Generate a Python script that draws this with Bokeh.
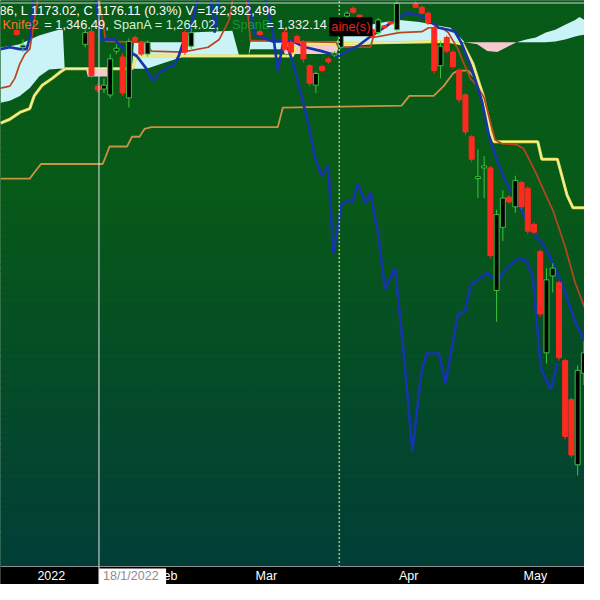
import numpy as np
from bokeh.plotting import figure
from bokeh.models import FixedTicker, Span, Label, Range1d
from bokeh.embed import file_html
from bokeh.resources import INLINE

# ---------------- data (bar index: 0 = first trading day of 2022) ----------------
cd_idx = [-3, -2, 8, 9, 10, 11, 12, 13, 14, 15, 16, 17, 18, 24, 25, 36,
          40, 41, 42, 43, 44, 45, 46, 47, 48, 49, 50, 51, 52, 53, 54, 55, 56, 57, 58,
          61, 62, 63, 64, 65, 66, 67, 68, 69, 70, 71, 72, 73, 74, 75, 76, 77, 78, 79, 80,
          81, 82, 83, 84, 85, 86, 87, 88]
cd_open = [1338, 1304, 1310, 1336, 1224, 1218, 1206, 1296, 1284, 1200, 1324, 1314, 1290, 1334, 1306, 1336,
           1334, 1314, 1326, 1314, 1266, 1226, 1264, 1280, 1288, 1304, 1368, 1384, 1370, 1364, 1340, 1334, 1348, 1356, 1340,
           1394, 1386, 1374, 1344, 1266, 1324, 1294, 1256, 1206, 1120, 1034, 1056, 1056, 804, 934, 996, 976, 1026, 1014, 940,
           884, 676, 834, 820, 660, 580, 446, 634]
cd_close = [1330, 1308, 1334, 1246, 1216, 1226, 1280, 1302, 1210, 1316, 1318, 1290, 1314, 1294, 1334, 1330,
            1300, 1294, 1314, 1280, 1230, 1250, 1256, 1274, 1292, 1346, 1374, 1376, 1364, 1360, 1326, 1360, 1344, 1352, 1394,
            1386, 1374, 1354, 1256, 1306, 1296, 1264, 1196, 1130, 1074, 1038, 1060, 876, 960, 994, 986, 1030, 976, 926, 924,
            756, 826, 850, 666, 504, 466, 640, 676]
cd_high = [1340, 1320, 1340, 1350, 1230, 1240, 1290, 1310, 1292, 1322, 1328, 1318, 1318, 1340, 1344, 1340,
           1340, 1318, 1330, 1318, 1270, 1254, 1268, 1284, 1296, 1352, 1378, 1388, 1372, 1366, 1344, 1364, 1350, 1358, 1410,
           1400, 1390, 1378, 1350, 1316, 1328, 1298, 1260, 1210, 1124, 1094, 1080, 1060, 970, 1010, 1000, 1040, 1030, 1018, 944,
           888, 850, 860, 824, 664, 584, 650, 700]
cd_low = [1328, 1294, 1304, 1240, 1210, 1210, 1200, 1290, 1204, 1180, 1314, 1286, 1284, 1288, 1300, 1328,
          1296, 1290, 1312, 1272, 1224, 1210, 1252, 1270, 1284, 1300, 1364, 1372, 1362, 1358, 1322, 1330, 1342, 1350, 1336,
          1384, 1372, 1350, 1250, 1240, 1292, 1260, 1190, 1124, 1068, 994, 994, 870, 740, 906, 982, 964, 970, 920, 920,
          750, 654, 800, 660, 498, 460, 424, 610]

tenkan_x = [-5.6, -4.1, -2.5, -1.4, -0.8, -0.2, 10.0, 25.6, 33.4, 35.3, 38.1, 41.25, 43.3, 45.9, 48.6, 50.6, 51.7,
            53.75, 56.1, 58.4, 59.5, 61.6, 63.1, 64.7, 66.25, 67.3, 68.3, 69.4, 70.5, 71.7, 72.8, 74.1, 75.6, 77.2,
            78.75, 80.3, 81.9, 83.4, 85.0, 86.6, 88.1]
tenkan_y = [1300, 1304, 1300, 1300, 1328, 1440, 1460, 1460, 1440, 1330, 1316, 1316, 1304, 1296, 1286, 1300, 1306,
            1326, 1346, 1366, 1374, 1370, 1360, 1344, 1340, 1336, 1314, 1280, 1240, 1190, 1120, 1070, 1024, 990,
            950, 916, 890, 850, 800, 740, 700]

kijun_x = [-5.6, -4.1, -3.3, -2.5, -1.7, -0.9, 0.6, 10.0, 11.3, 17.8, 18.6, 23.6, 27.7, 29.5, 31.1, 31.9, 33.75,
           34.5, 41.25, 48.3, 48.6, 53.75, 54.2, 58.4, 62.0, 63.1, 65.2, 66.25, 67.8, 68.9, 69.8, 70.9, 72.0, 73.0,
           73.75, 74.8, 77.2, 78.3, 79.2, 80.3, 81.9, 83.0, 83.9, 85.0, 86.6, 88.1]
kijun_y = [1220, 1224, 1240, 1270, 1290, 1300, 1420, 1420, 1316, 1314, 1296, 1294, 1304, 1320, 1360, 1420, 1420,
           1318, 1316, 1314, 1304, 1304, 1324, 1334, 1336, 1344, 1344, 1334, 1300, 1266, 1240, 1224, 1200, 1150,
           1114, 1106, 1104, 1096, 1074, 1046, 1000, 970, 936, 894, 820, 770]

chikou_x = [9.5, 10.5, 12.7, 13.9, 16.25, 17.8, 18.9, 19.8, 21.4, 22.2, 23.0, 23.6, 24.8, 26.4, 28.0, 28.75, 29.5,
            36.6, 38.1, 38.9, 39.7, 40.6, 41.25, 42.8, 43.9, 44.8, 45.9, 47.0, 47.8, 49.1, 50.2, 50.9, 51.7, 53.0,
            53.75, 55.0, 56.1, 57.7, 58.9, 60.5, 61.9, 62.8, 64.7, 65.8, 67.8, 68.9, 69.8, 71.25, 72.5, 74.1, 75.6,
            77.5, 78.75, 79.8, 81.1, 82.7, 83.75]
chikou_y = [1420, 1320, 1320, 1304, 1286, 1260, 1234, 1250, 1264, 1266, 1286, 1310, 1340, 1420, 1420, 1334, 1420,
            1420, 1334, 1256, 1310, 1300, 1274, 1200, 1140, 1080, 1040, 1060, 880, 980, 990, 986, 1024, 984,
            1006, 920, 806, 850, 700, 474, 634, 676, 676, 614, 756, 760, 814, 830, 840, 820, 850,
            870, 866, 834, 644, 600, 656]

knife_x = [-5.6, -0.9, -0.2, 0.9, 10.8, 11.3, 11.9, 14.7, 15.5, 16.7, 17.5, 18.6, 38.9, 39.7, 58.75, 60.0, 63.9,
           65.5, 67.0, 67.8, 69.4, 70.9, 72.0, 73.0, 73.75]
knife_y = [1034, 1034, 1046, 1064, 1064, 1080, 1100, 1100, 1120, 1120, 1136, 1140, 1140, 1180, 1184, 1204, 1204,
           1224, 1250, 1256, 1256, 1236, 1204, 1144, 1110]

ma_x = [-5.6, -4.1, -2.5, -0.9, -0.2, 1.1, 2.7, 4.1, 4.8, 15.5, 16.25, 41.25, 42.0, 66.25, 68.6, 70.2, 71.7, 73.0,
        73.6, 80.6, 81.25, 83.75, 85.3, 86.25, 88.1]
ma_y = [1148, 1156, 1170, 1178, 1204, 1226, 1240, 1254, 1260, 1260, 1286, 1286, 1310, 1316, 1310, 1270, 1210, 1130,
        1110, 1110, 1074, 1074, 1000, 974, 974]

span_x = [-5.6, -4.1, -2.5, -0.9, 0.6, 2.2, 3.75, 4.4, 4.7, 8.1, 8.4, 11.6, 11.9, 15.5, 15.8, 17.8, 21.7, 24.1, 24.8,
          31.6, 32.7, 34.2, 34.5, 39.4, 40.0, 48.3, 49.1, 50.6, 53.75, 56.1, 58.4, 61.6, 64.7, 66.6, 67.8, 68.9,
          70.9, 72.5, 74.1, 75.6, 77.2, 78.75, 80.3, 81.9, 83.4, 85.0, 86.6, 87.3, 88.1]
span_a = [1304, 1306, 1310, 1320, 1328, 1334, 1340, 1340, 1260, 1260, 1244, 1244, 1260, 1260, 1314, 1314, 1314, 1314,
          1334, 1338, 1286, 1286, 1316, 1316, 1290, 1290, 1324, 1340, 1350, 1356, 1360, 1356, 1348, 1344, 1328, 1314,
          1310, 1296, 1294, 1304, 1314, 1320, 1324, 1334, 1340, 1350, 1360, 1366, 1360]
span_b = [1190, 1194, 1204, 1220, 1244, 1258, 1260, 1260, 1260, 1260, 1260, 1260, 1260, 1260, 1260, 1260, 1276, 1286,
          1286, 1286, 1286, 1286, 1300, 1300, 1316, 1316, 1304, 1306, 1310, 1312, 1314, 1314, 1314, 1314, 1314, 1314,
          1314, 1314, 1314, 1314, 1314, 1314, 1314, 1314, 1316, 1320, 1326, 1328, 1330]

month_idx = [0, 19, 35, 58, 78]
month_labels = ["2022", "Feb", "Mar", "Apr", "May"]
crosshair_idx = 10.2
crosshair_date = "18/1/2022"
marker_idx = 48.75

header_1 = "86, L 1173.02, C 1176.11 (0.3%) V =142,392,496"
header_2 = [("Knife2", "#f07a26"), ("= 1,346.49,", "#f2f2f2"), ("SpanA = 1,264.02,", "#d6f3d6"),
            ("SpanB", "#15962f"), ("= 1,332.14", "#f0f0f0")]
header_2_x = [2, 45, 116, 238, 273]
tag_text = "aine(s)"

# ---------------- layout / style ----------------
W, H = 584, 584
X0, X1 = -5.6, 88.1
Y_BOT, Y0, Y1 = 200, 236, 1400     # bottom band (date axis) spans Y_BOT..Y0
PXU = W / (X1 - X0)
PYU = H / (Y1 - Y_BOT)
FONT = "Liberation Sans"
sc = 0.973

AW = {c: 0.556 for c in "0123456789"}
AW.update({",": .278, ".": .278, " ": .278, "/": .278, "=": .584, "F": .611, "e": .556, "b": .556,
           "M": .833, "a": .556, "r": .333, "A": .667, "p": .556, "y": .5})


def tw(s, size):
    return sum(AW.get(c, 0.556) for c in s) * size


p = figure(width=W, height=H, x_range=Range1d(X0, X1), y_range=Range1d(Y_BOT, Y1),
           output_backend="svg", toolbar_location=None, y_axis_location=None,
           min_border_left=0, min_border_right=0, min_border_top=0, min_border_bottom=0)
p.background_fill_color = "#07591a"
p.border_fill_color = "black"
p.outline_line_color = None
p.ygrid.visible = False

# background gradient
top_c = np.array([8, 90, 24])
bot_c = np.array([2, 62, 56])
n = 90
edges = np.linspace(Y0, Y1, n + 1)
mids = (edges[:-1] + edges[1:]) / 2
t = (Y1 - mids) / (Y1 - Y0)
f = np.clip((t - 0.33) / 0.67, 0, 1)
cols = ["#%02x%02x%02x" % tuple(np.round(top_c + (bot_c - top_c) * k).astype(int)) for k in f]
p.quad(left=X0, right=X1, bottom=edges[:-1], top=edges[1:], fill_color=cols, line_color=cols, line_width=1)
# black date band
p.quad(left=X0, right=X1, bottom=Y_BOT, top=Y0, fill_color="black", line_color="black")

# grid
p.xgrid.ticker = FixedTicker(ticks=month_idx)
p.xgrid.grid_line_color = "#4c8a5a"
p.xgrid.grid_line_alpha = 0.45

# cloud
sa = np.array(span_a, float)
sb = np.array(span_b, float)
top = np.maximum(sa, sb)
p.varea(x=span_x, y1=sb, y2=top, fill_color="#c9f3f7")
p.varea(x=span_x, y1=sa, y2=top, fill_color="#f4c9cf")

# lines
p.line(knife_x, knife_y, line_color="#c89344", line_width=1.8)
p.line(ma_x, ma_y, line_color="#e6df58", line_width=3)
p.line(ma_x, ma_y, line_color="#fbf8cc", line_width=0.8)
p.line(kijun_x, kijun_y, line_color="#b8461f", line_width=1.7)
p.line(tenkan_x, tenkan_y, line_color="#1535a8", line_width=2.7)
p.line(chikou_x, chikou_y, line_color="#1535a8", line_width=2.7)

# candles
o = np.array(cd_open, float)
c = np.array(cd_close, float)
up = c >= o
wick_col = ["#3cc43c" if u else "#ff2a1f" for u in up]
body_fill = ["#000000" if u else "#ff2a1f" for u in up]
p.segment(x0=cd_idx, y0=cd_low, x1=cd_idx, y1=cd_high, line_color=wick_col, line_width=1)
p.vbar(x=cd_idx, width=0.8, top=np.maximum(o, c), bottom=np.minimum(o, c),
       fill_color=body_fill, line_color=wick_col, line_width=1)

# crosshair / marker
p.add_layout(Span(location=crosshair_idx, dimension="height", line_color="#e4e4e4", line_width=1))
p.segment(x0=[marker_idx], y0=[Y0], x1=[marker_idx], y1=[Y1], line_color="#cfd88c", line_width=1.2,
          line_dash="2 2")
p.add_layout(Span(location=Y1 - 2.5 / PYU, dimension="width", line_color="#cfcfcf", line_width=1))

# x axis pinned at the top of the bottom band
label_size = 12.5
offs = [(2 + tw(s, label_size) / 2) / PXU for s in month_labels]
ticks = [m + d for m, d in zip(month_idx, offs)]
p.xaxis.fixed_location = Y0
p.xaxis.ticker = FixedTicker(ticks=ticks)
p.xaxis.major_label_overrides = {tk: lab for tk, lab in zip(ticks, month_labels)}
p.xaxis.axis_line_color = "#8c8c8c"
p.xaxis.major_tick_line_color = None
p.xaxis.minor_tick_line_color = None
p.xaxis.major_tick_out = 0
p.xaxis.major_tick_in = 0
p.xaxis.minor_tick_out = 0
p.xaxis.minor_tick_in = 0
p.xaxis.major_label_text_color = "white"
p.xaxis.major_label_text_font = FONT
p.xaxis.major_label_text_font_size = f"{label_size}px"
p.xaxis.major_label_standoff = 2

# date tag under crosshair (white box + grey text)
box_w = 69 * sc / PXU
p.quad(left=crosshair_idx, right=crosshair_idx + box_w, bottom=Y_BOT, top=Y0 - 1.5 / PYU,
       fill_color="white", line_color=None)
p.add_layout(Label(x=crosshair_idx, y=(Y_BOT + Y0) / 2, x_offset=4,
                   text=crosshair_date, text_align="left", text_baseline="middle",
                   text_color="#8c8c8c", text_font=FONT, text_font_size="12.5px"))

# header texts
p.add_layout(Label(x=-1, y=H - 10 * sc, x_units="screen", y_units="screen", text=header_1,
                   text_color="white", text_font=FONT, text_font_size="12.8px", text_baseline="middle"))
for (s, col), xx in zip(header_2, header_2_x):
    p.add_layout(Label(x=xx * sc, y=H - 25 * sc, x_units="screen", y_units="screen", text=s,
                       text_color=col, text_font=FONT, text_font_size="12.8px", text_baseline="middle"))
p.add_layout(Label(x=338 * sc, y=H - 27 * sc, x_units="screen", y_units="screen", text=tag_text,
                   text_color="#e8211b", text_font=FONT, text_font_size="12.8px", text_baseline="middle",
                   background_fill_color="black", padding=2))

open("out.html", "w").write(file_html(p, INLINE))
